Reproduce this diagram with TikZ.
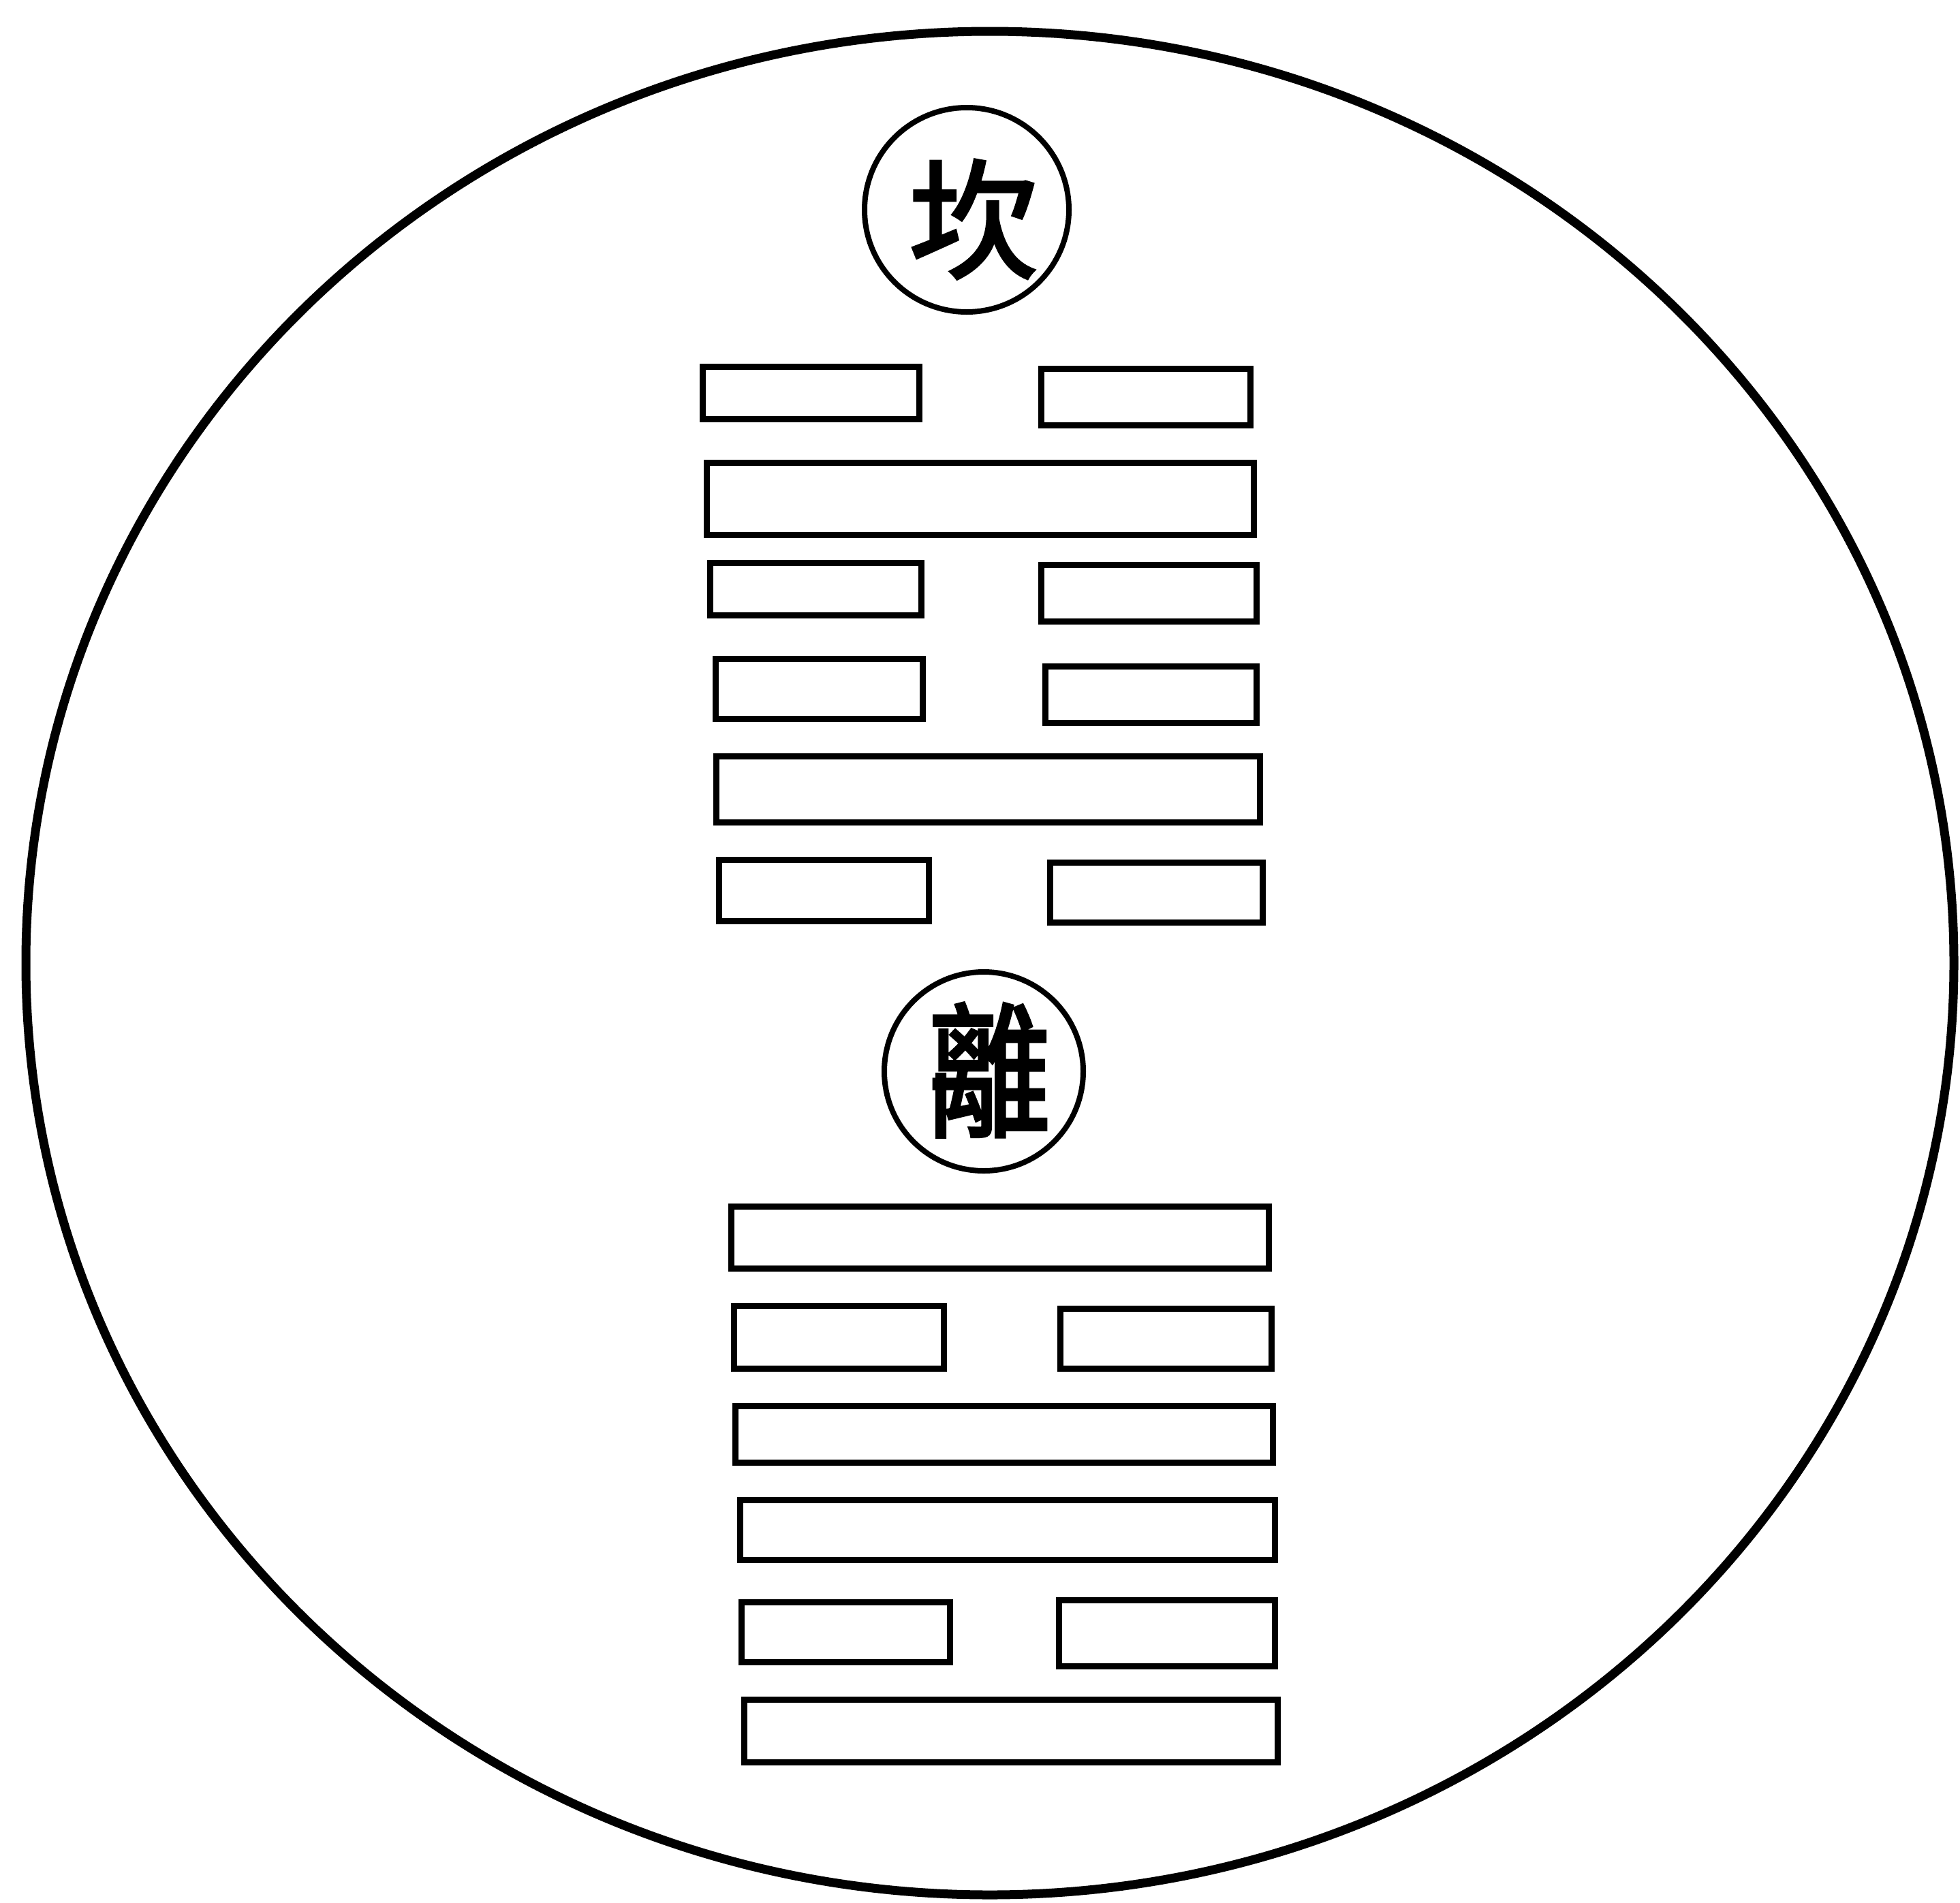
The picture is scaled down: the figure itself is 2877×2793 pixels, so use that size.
\documentclass[tikz,border=0pt]{standalone}
\usepackage{fontspec}
\newfontfamily\cjk[FakeBold=2.5]{Noto Sans CJK TC}
\begin{document}
\begin{tikzpicture}[x=1pt,y=-1pt,
  outerring/.style={draw=black,line width=13pt},
  namering/.style={draw=black,line width=8pt,circle,inner sep=0pt,minimum size=300pt},
  glyph/.style={inner sep=0pt,font=\cjk\fontsize{190}{190}\selectfont},
  yao/.style={draw=black,line width=9pt}]
\useasboundingbox (0,0) rectangle (2877,2793);
\fill[white] (0,0) rectangle (2877,2793);
% outer ring
\draw[outerring] (1453,1414) ellipse [x radius=1415, y radius=1368];
% labels
\node[namering] (kan) at (1419,308) {};
\node[glyph,xshift=10pt,yshift=-14pt] (kantext) at (kan.center) {坎};
\node[namering,minimum size=292pt] (li) at (1444,1573) {};
\node[glyph,xshift=8pt,yshift=2pt] (litext) at (li.center) {\scalebox{0.95}[1.12]{離}};
% Kan hexagram
\draw[yao] (1031,538) rectangle (1349,615);
\draw[yao] (1528,541) rectangle (1835,624);
\draw[yao] (1037,679) rectangle (1840,785);
\draw[yao] (1042,826) rectangle (1352,903);
\draw[yao] (1528,829) rectangle (1844,912);
\draw[yao] (1050,967) rectangle (1354,1055);
\draw[yao] (1534,978) rectangle (1844,1061);
\draw[yao] (1051,1110) rectangle (1849,1207);
\draw[yao] (1055,1262) rectangle (1363,1352);
\draw[yao] (1541,1266) rectangle (1853,1354);
% Li hexagram
\draw[yao] (1073,1771) rectangle (1862,1862);
\draw[yao] (1077,1917) rectangle (1385,2009);
\draw[yao] (1556,1921) rectangle (1866,2009);
\draw[yao] (1079,2064) rectangle (1868,2147);
\draw[yao] (1086,2202) rectangle (1871,2290);
\draw[yao] (1088,2352) rectangle (1394,2440);
\draw[yao] (1554,2349) rectangle (1871,2446);
\draw[yao] (1092,2495) rectangle (1875,2587);
\end{tikzpicture}
\end{document}
